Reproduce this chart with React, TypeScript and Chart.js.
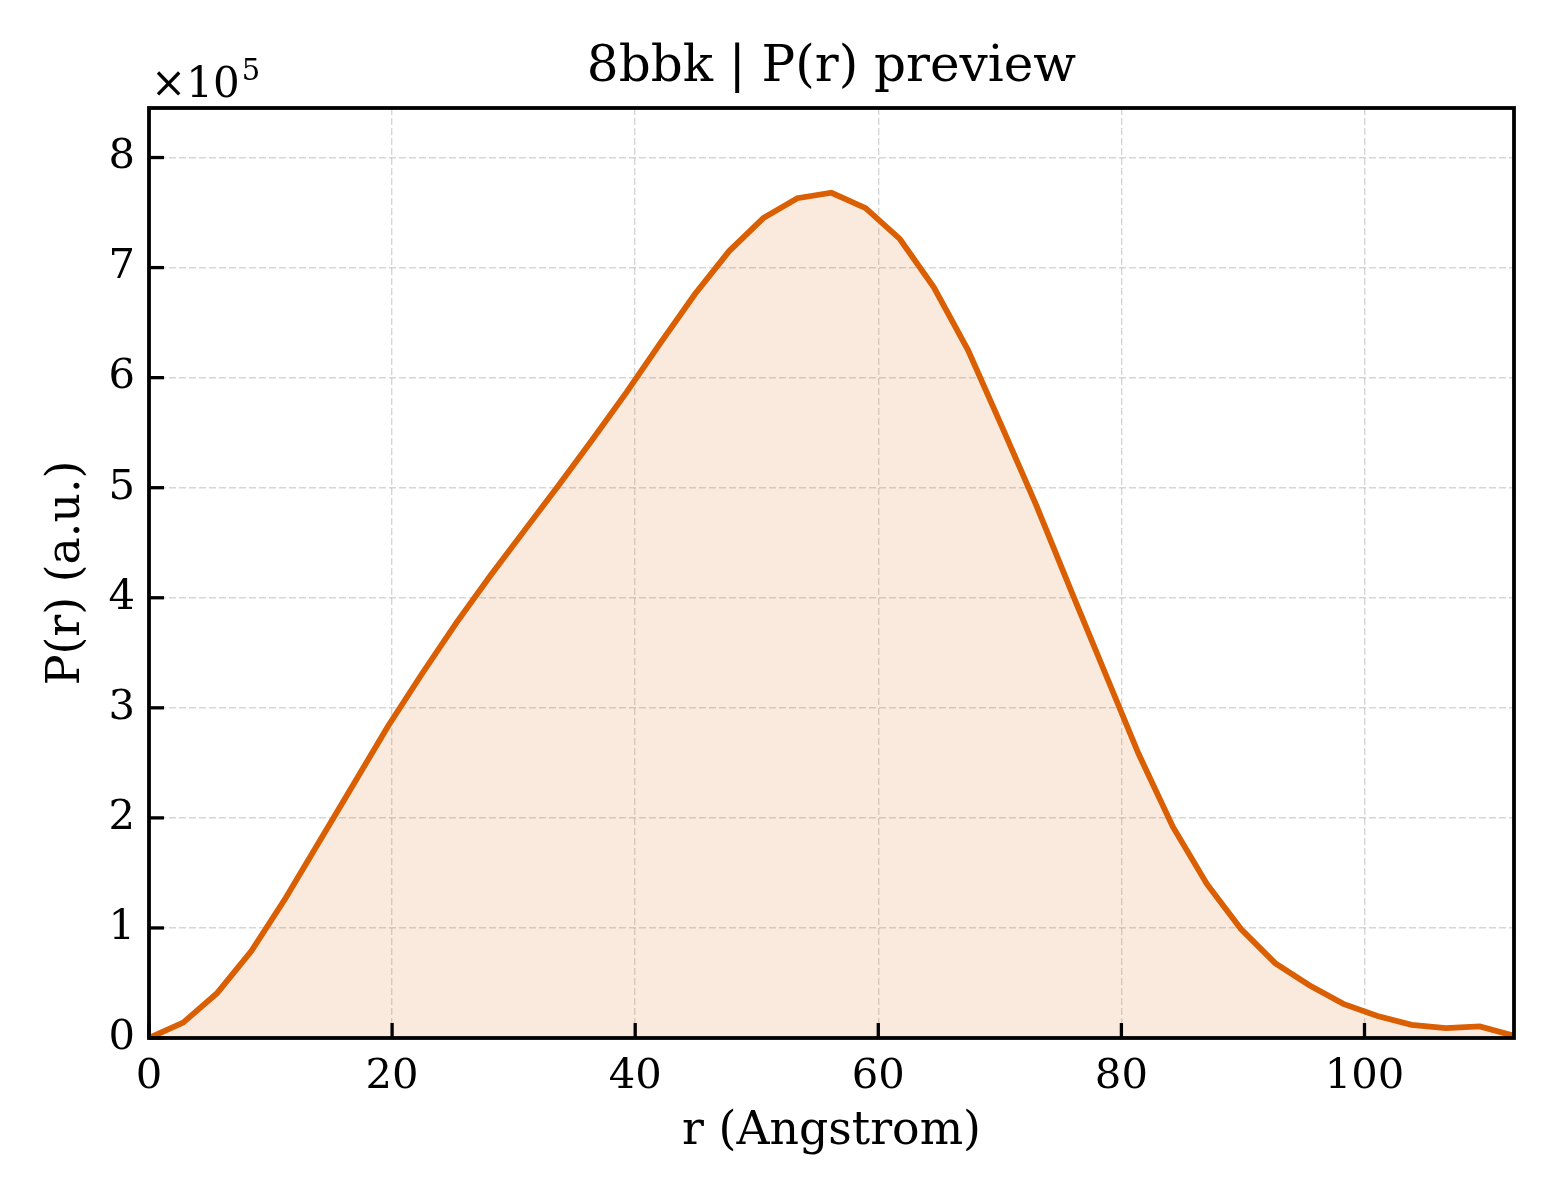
import { useEffect, useRef } from 'react';
import { Chart, registerables } from 'chart.js';

Chart.register(...registerables);

// r grid (Angstrom)
const R = [
  0, 2.81, 5.62, 8.42, 11.23, 14.04, 16.85, 19.65, 22.46, 25.27, 28.08, 30.88, 33.69, 36.5,
  39.31, 42.11, 44.92, 47.73, 50.54, 53.34, 56.15, 58.96, 61.77, 64.57, 67.38, 70.19, 73.0,
  75.8, 78.61, 81.42, 84.23, 87.03, 89.84, 92.65, 95.46, 98.26, 101.07, 103.88, 106.69,
  109.49, 112.3,
];

// P(r) in units of 1e5
const PR = [
  0, 0.14, 0.41, 0.79, 1.27, 1.79, 2.31, 2.83, 3.31, 3.77, 4.2, 4.61, 5.02, 5.44, 5.87, 6.32,
  6.76, 7.15, 7.45, 7.63, 7.68, 7.54, 7.26, 6.82, 6.25, 5.55, 4.84, 4.08, 3.33, 2.58, 1.92,
  1.4, 0.99, 0.68, 0.48, 0.31, 0.2, 0.12, 0.09, 0.105, 0.02,
];

const X_TICKS = [0, 20, 40, 60, 80, 100];
const Y_TICKS = [0, 1, 2, 3, 4, 5, 6, 7, 8];

const TITLE = '8bbk | P(r) preview';
const SERIF = "'DejaVu Serif', serif";
const LINE = '#d95f02';

const framePlugin = {
  id: 'frame',
  afterDatasetsDraw(chart: any) {
    const { ctx, chartArea: a, scales } = chart;
    ctx.save();
    ctx.strokeStyle = '#000';
    ctx.lineWidth = 3.3;
    // inward ticks
    for (const v of X_TICKS) {
      const x = scales.x.getPixelForValue(v);
      ctx.beginPath();
      ctx.moveTo(x, a.bottom);
      ctx.lineTo(x, a.bottom - 15);
      ctx.stroke();
    }
    for (const v of Y_TICKS) {
      const y = scales.y.getPixelForValue(v);
      ctx.beginPath();
      ctx.moveTo(a.left, y);
      ctx.lineTo(a.left + 15, y);
      ctx.stroke();
    }
    ctx.lineWidth = 3.8;
    ctx.strokeRect(a.left, a.top, a.right - a.left, a.bottom - a.top);

    ctx.fillStyle = '#000';
    // title, centred over the plot area
    ctx.textAlign = 'center';
    ctx.textBaseline = 'middle';
    ctx.font = `50px ${SERIF}`;
    ctx.fillText(TITLE, (a.left + a.right) / 2, 68);
    // offset label
    ctx.textAlign = 'left';
    ctx.textBaseline = 'alphabetic';
    ctx.font = `42px ${SERIF}`;
    ctx.fillText('×10', a.left + 2, a.top - 11);
    const w = ctx.measureText('×10').width;
    ctx.font = `29px ${SERIF}`;
    ctx.fillText('5', a.left + 4 + w, a.top - 28);
    ctx.restore();
  },
};

export default function App() {
  const canvasRef = useRef<HTMLCanvasElement>(null);
  const chartRef = useRef<Chart | null>(null);

  useEffect(() => {
    document.body.style.margin = '0';
    if (!canvasRef.current) return;
    if (chartRef.current) chartRef.current.destroy();

    chartRef.current = new Chart(canvasRef.current, {
      type: 'line',
      data: {
        datasets: [{
          data: R.map((r, i) => ({ x: r, y: PR[i] })),
          borderColor: LINE,
          backgroundColor: 'rgba(217,95,2,0.13)',
          borderWidth: 5.8,
          fill: 'origin',
          tension: 0,
          pointRadius: 0,
        }],
      },
      options: {
        responsive: false,
        animation: false,
        devicePixelRatio: 1,
        layout: { padding: { left: 0, right: 46, top: 108, bottom: 0 } },
        plugins: {
          legend: { display: false },
          tooltip: { enabled: false },
          title: { display: false },
        },
        scales: {
          x: {
            type: 'linear',
            min: 0,
            max: 112.3,
            afterBuildTicks: (s: any) => { s.ticks = X_TICKS.map((v) => ({ value: v })); },
            afterFit: (s: any) => { s.height = 162; },
            grid: { color: 'rgba(0,0,0,0.16)', lineWidth: 1.4, drawTicks: false },
            border: { display: false, dash: [7, 3] },
            ticks: {
              color: '#000',
              padding: 14,
              font: { family: SERIF, size: 41.7 },
              maxRotation: 0,
            },
            title: {
              display: true,
              text: 'r (Angstrom)',
              color: '#000',
              font: { family: SERIF, size: 45.8, lineHeight: 1.2 },
              padding: { top: 0, bottom: 40 },
            },
          },
          y: {
            type: 'linear',
            min: 0,
            max: 8.45,
            afterBuildTicks: (s: any) => { s.ticks = Y_TICKS.map((v) => ({ value: v })); },
            afterFit: (s: any) => { s.width = 149; },
            grid: { color: 'rgba(0,0,0,0.16)', lineWidth: 1.4, drawTicks: false },
            border: { display: false, dash: [7, 3] },
            ticks: {
              color: '#000',
              padding: 14,
              font: { family: SERIF, size: 41.7 },
            },
            title: {
              display: true,
              text: 'P(r) (a.u.)',
              color: '#000',
              font: { family: SERIF, size: 45.8, lineHeight: 1.2 },
              padding: { top: 40, bottom: 0 },
            },
          },
        },
      },
      plugins: [framePlugin],
    });

    return () => {
      if (chartRef.current) {
        chartRef.current.destroy();
        chartRef.current = null;
      }
    };
  }, []);

  return <canvas ref={canvasRef} width={1560} height={1200} style={{ display: 'block' }} />;
}
